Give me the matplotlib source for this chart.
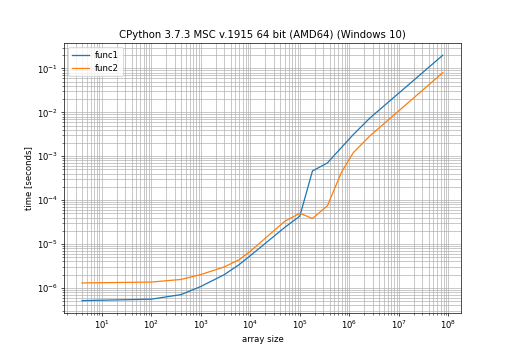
import matplotlib
matplotlib.use("Agg")
import matplotlib.pyplot as plt

# array sizes (log scale)
sizes = [4, 100, 400, 1000, 3000, 6000, 10000, 50000, 100000,
         180000, 360000, 700000, 1200000, 2600000, 77000000]

# time [seconds]
func1 = [5.1e-7, 5.5e-7, 7.0e-7, 1.07e-6, 2.0e-6, 3.4e-6, 5.4e-6, 2.4e-5, 4.3e-5,
         4.6e-4, 7.0e-4, 1.6e-3, 3.1e-3, 7.4e-3, 0.20]
func2 = [1.29e-6, 1.35e-6, 1.55e-6, 2.0e-6, 3.0e-6, 4.4e-6, 6.8e-6, 3.3e-5, 5.0e-5,
         3.8e-5, 7.4e-5, 4.4e-4, 1.2e-3, 2.9e-3, 0.080]

dpi = 61
fig = plt.figure(figsize=(512 / dpi, 358 / dpi), dpi=dpi)
plt.subplots_adjust(left=0.125, right=0.9, top=0.88, bottom=0.126)

plt.loglog(sizes, func1, label="func1")
plt.loglog(sizes, func2, label="func2")
plt.grid(True, which="both")
plt.legend(loc="upper left")
plt.title("CPython 3.7.3 MSC v.1915 64 bit (AMD64) (Windows 10)")
plt.xlabel("array size")
plt.ylabel("time [seconds]")

plt.savefig("out.png", dpi=dpi)
